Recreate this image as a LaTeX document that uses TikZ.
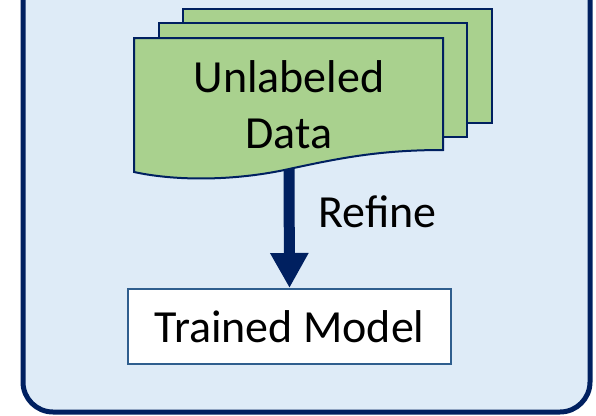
\documentclass[tikz,border=0pt]{standalone}
\usepackage{fontspec}
\setmainfont{Carlito}
\usetikzlibrary{arrows.meta, positioning}
\definecolor{navy}{HTML}{002060}
\definecolor{paleblue}{HTML}{DEEBF7}
\definecolor{docgreen}{HTML}{A9D18E}
\definecolor{boxblue}{HTML}{2F5E8E}

\begin{document}
\begin{tikzpicture}[
            x=1pt, y=-1pt,
            panel/.style={draw=navy, fill=paleblue, line width=5pt, rounded corners=30pt},
            sheet/.style={draw=navy, fill=docgreen, line width=2pt},
            modelbox/.style={rectangle, draw=boxblue, fill=white, line width=2pt, minimum width=323pt, minimum height=75pt, inner sep=0pt},
            bigtext/.style={font=\fontsize{46}{56}\selectfont, text=black},
            flow/.style={draw=navy, line width=11pt, -{Triangle[width=36pt, length=35pt]}},
            ]
            \useasboundingbox (0,0) rectangle (596,415);
            \clip (0,0) rectangle (596,415);
            % container
            \draw[panel] (23,-60) rectangle (590,412);
            % stacked sheets, back to front
            \draw[sheet] (183,9) rectangle (492,123);
            \draw[sheet] (159,23) rectangle (467,137);
            \draw[sheet] (134,38) -- (443,38) -- (443,150)
                .. controls (380,150) and (340,158) .. (289,169)
                .. controls (240,180) and (180,182) .. (134,172) -- cycle;
            \node[bigtext, align=center, inner sep=0pt] (data) at (289,105) {Unlabeled\\Data};
            \coordinate (wave) at (289,169);

            \node[modelbox, bigtext] (model) at (289.5,326.5) {Trained Model};

            \draw[flow] (wave) -- (model.north)
                node[pos=0.36, right=24pt, inner sep=0pt, bigtext] (refine) {Refine};
        \end{tikzpicture}
\end{document}
